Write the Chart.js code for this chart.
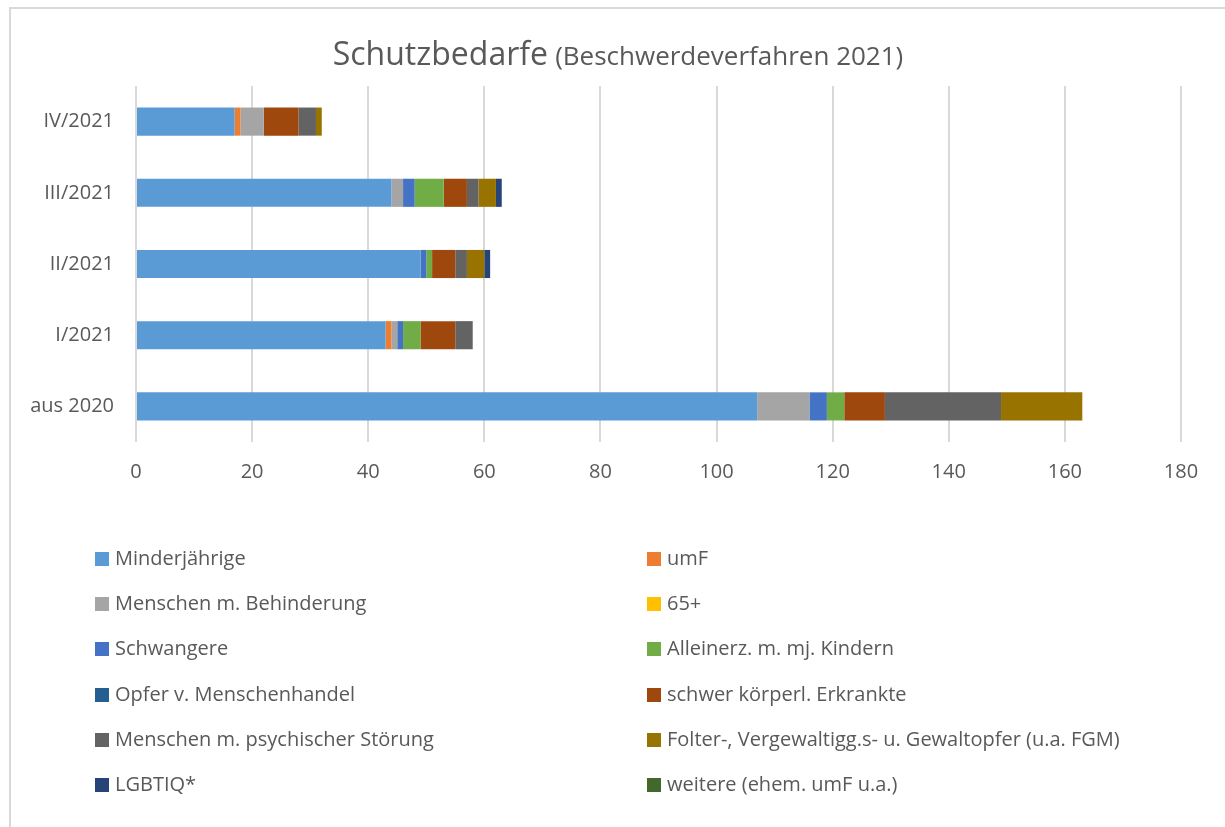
<!DOCTYPE html>
<html lang="de">
<head>
<meta charset="utf-8">
<title>Schutzbedarfe</title>
<script src="https://cdn.jsdelivr.net/npm/chart.js@4"></script>
<style>
  html, body { margin: 0; padding: 0; background: #fff; }
  body { width: 1225px; height: 827px; position: relative; overflow: hidden;
         font-family: "Open Sans", sans-serif; color: #595959; }
  #frame { position: absolute; left: 9px; top: 7px; right: -4px; bottom: -4px;
           border-left: 2px solid #d9d9d9; border-top: 2px solid #d9d9d9; }
  #wrap { position: absolute; left: 0; top: 0; width: 1225px; height: 827px; }
  #title { position: absolute; left: 0; width: 1236px; top: 31px; text-align: center;
           white-space: nowrap; line-height: 44px; }
  #title .main { font-size: 32px; }
  #title .sub { font-size: 26px; margin-left: 3px; }
  .lg { position: absolute; font-size: 20px; white-space: nowrap; line-height: 24px; }
  .lg i { display: inline-block; width: 14px; height: 14px; margin-right: 6px; vertical-align: -1px; }
</style>
</head>
<body>
<div id="frame"></div>
<div id="wrap"><canvas id="chart" width="1225" height="827"></canvas></div>
<div id="title"><span class="main">Schutzbedarfe</span> <span class="sub">(Beschwerdeverfahren 2021)</span></div>
<div id="legend"></div>
<script>
'use strict';

// ── data ──────────────────────────────────────
const categories = ['IV/2021', 'III/2021', 'II/2021', 'I/2021', 'aus 2020'];
const xTicks = [0, 20, 40, 60, 80, 100, 120, 140, 160, 180];

const seriesNames = [
  'Minderjährige', 'umF', 'Menschen m. Behinderung', '65+', 'Schwangere',
  'Alleinerz. m. mj. Kindern', 'Opfer v. Menschenhandel', 'schwer körperl. Erkrankte',
  'Menschen m. psychischer Störung', 'Folter-, Vergewaltigg.s- u. Gewaltopfer (u.a. FGM)',
  'LGBTIQ*', 'weitere (ehem. umF u.a.)'
];
const seriesColors = [
  '#5b9bd5', '#ed7d31', '#a5a5a5', '#ffc000', '#4472c4', '#70ad47',
  '#255e91', '#9e480e', '#636363', '#997300', '#264478', '#43682b'
];

const minderjaehrige = [17, 44, 49, 43, 107];
const umF            = [1, 0, 0, 1, 0];
const behinderung    = [4, 2, 0, 1, 9];
const ue65           = [0, 0, 0, 0, 0];
const schwangere     = [0, 2, 1, 1, 3];
const alleinerz      = [0, 5, 1, 3, 3];
const menschenhandel = [0, 0, 0, 0, 0];
const erkrankte      = [6, 4, 4, 6, 7];
const psychisch      = [3, 2, 2, 3, 20];
const gewaltopfer    = [1, 3, 3, 0, 14];
const lgbtiq         = [0, 1, 1, 0, 0];
const weitere        = [0, 0, 0, 0, 0];

const seriesValues = [
  minderjaehrige, umF, behinderung, ue65, schwangere, alleinerz,
  menschenhandel, erkrankte, psychisch, gewaltopfer, lgbtiq, weitere
];

// ── legend (two columns, HTML) ────────────────
(function buildLegend() {
  const box = document.getElementById('legend');
  seriesNames.forEach((name, i) => {
    const row = Math.floor(i / 2), col = i % 2;
    const el = document.createElement('div');
    el.className = 'lg';
    el.style.left = (col ? 647 : 95) + 'px';
    el.style.top = (546 + row * 45.2) + 'px';
    el.innerHTML = '<i style="background:' + seriesColors[i] + '"></i>' + name;
    box.appendChild(el);
  });
})();

// ── chart ─────────────────────────────────────
(function initChart() {
  const canvas = document.getElementById('chart');
  const font = { family: 'Open Sans', size: 20 };

  new Chart(canvas, {
    type: 'bar',
    data: {
      labels: categories,
      datasets: seriesNames.map((name, i) => ({
        label: name,
        data: seriesValues[i],
        backgroundColor: seriesColors[i],
        borderWidth: 0,
        categoryPercentage: 1,
        barPercentage: 0.395,
      })),
    },
    options: {
      indexAxis: 'y',
      responsive: false,
      animation: false,
      layout: { padding: { left: 0, right: 44, top: 86, bottom: 0 } },
      plugins: {
        legend: { display: false },
        title: { display: false },
        tooltip: { enabled: false },
      },
      scales: {
        x: {
          stacked: true,
          min: 0,
          max: 180,
          afterBuildTicks: (s) => { s.ticks = xTicks.map((v) => ({ value: v })); },
          afterFit: (s) => { s.height = 385; },
          grid: { color: '#d9d9d9', lineWidth: 2, drawTicks: false },
          border: { display: false },
          ticks: { color: '#595959', font, padding: 18 },
        },
        y: {
          stacked: true,
          afterFit: (s) => { s.width = 136; },
          grid: { display: false, drawTicks: false },
          border: { display: false },
          ticks: { color: '#595959', font, padding: 22 },
        },
      },
    },
    plugins: [{
      id: 'zeroLine',
      beforeDatasetsDraw(chart) {
        const { ctx, chartArea, scales } = chart;
        const x0 = scales.x.getPixelForValue(0);
        ctx.save();
        ctx.strokeStyle = '#d9d9d9';
        ctx.lineWidth = 2;
        ctx.beginPath();
        ctx.moveTo(x0, chartArea.top);
        ctx.lineTo(x0, chartArea.bottom);
        ctx.stroke();
        ctx.restore();
      },
    }],
  });
})();
</script>
</body>
</html>
